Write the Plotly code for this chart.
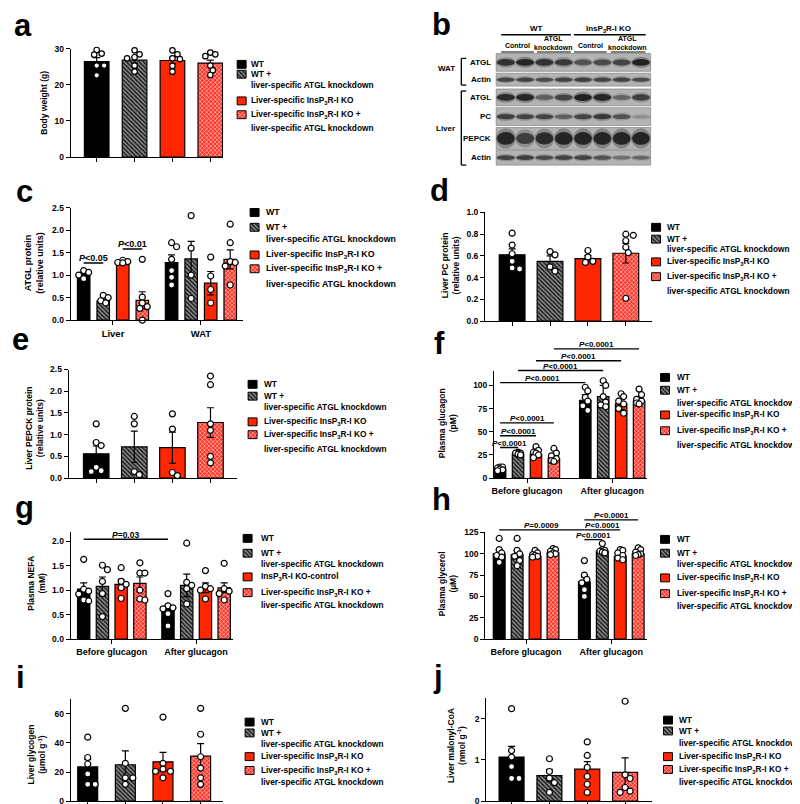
import plotly.graph_objects as go

W, H = 800, 804
FONT = "Liberation Sans, Arial, Helvetica, sans-serif"

# ====================== data ======================
legend_std = [
    ["WT"],
    ["WT +", "liver-specific ATGL knockdown"],
    ["Liver-specific InsP<sub>3</sub>R-I KO"],
    ["Liver-specific InsP<sub>3</sub>R-I KO +", "liver-specific ATGL knockdown"],
]
legend_g = [
    ["WT"],
    ["WT +", "liver-specific ATGL knockdown"],
    ["InsP<sub>3</sub>R-I KO-control"],
    ["Liver-specific InsP<sub>3</sub>R-I KO +", "liver-specific ATGL knockdown"],
]

# a  body weight (g)
bw_mean = [26.4, 26.8, 26.7, 26.0]
bw_sem = [1.1, 0.8, 0.9, 0.8]
bw_pts = [[29.6, 28.6, 28.3, 25.3, 25.3, 22.6],
          [29.5, 28.4, 27.6, 27.3, 25.3, 23.6],
          [29.5, 28.4, 27.3, 27.1, 25.2, 23.6],
          [28.9, 28.4, 27.9, 25.3, 24.0, 22.7]]

# c  ATGL protein (liver / WAT)
c_categories = ["Liver", "WAT"]
atgl_liver_mean = [1.02, 0.42, 1.27, 0.44]
atgl_liver_sem = [0.04, 0.03, 0.02, 0.19]
atgl_liver_pts = [[1.10, 1.06, 1.00, 0.92], [0.55, 0.50, 0.43, 0.38],
                  [1.33, 1.30, 1.28, 1.27], [1.35, 0.51, 0.38, 0.30, 0.26, 0.0]]
atgl_wat_mean = [1.28, 1.36, 0.82, 1.35]
atgl_wat_sem = [0.17, 0.39, 0.26, 0.21]
atgl_wat_pts = [[1.72, 1.63, 1.35, 1.10, 0.95, 0.78], [2.32, 1.60, 1.00, 0.48],
                [1.40, 0.98, 0.68, 0.38], [2.13, 1.72, 1.30, 1.28, 1.20, 0.78]]
c_sig = [(0, 1, 1.27, "P<0.05"), (2, 3, 1.58, "P<0.01")]

# d  liver PC protein
pc_mean = [0.61, 0.55, 0.575, 0.625]
pc_sem = [0.055, 0.05, 0.03, 0.09]
pc_pts = [[0.81, 0.70, 0.62, 0.55, 0.49, 0.48], [0.64, 0.61, 0.50, 0.46],
          [0.65, 0.59, 0.55, 0.54], [0.80, 0.79, 0.74, 0.68, 0.63, 0.21]]

# e  liver PEPCK protein
pepck_mean = [0.56, 0.72, 0.70, 1.28]
pepck_sem = [0.18, 0.36, 0.36, 0.34]
pepck_pts = [[1.25, 0.82, 0.75, 0.25, 0.17, 0.15], [1.42, 1.25, 0.15, 0.08],
             [1.48, 1.13, 0.13, 0.06], [2.35, 2.15, 1.25, 1.10, 0.50, 0.35]]

# f  plasma glucagon (pM)
time_categories = ["Before glucagon", "After glucagon"]
glucagon_before_mean = [10, 26, 26, 21]
glucagon_before_sem = [1, 1, 3, 2.5]
glucagon_before_pts = [[12, 12, 11, 10, 9, 8], [28, 27, 27, 26, 25],
                       [34, 30, 28, 27, 25, 22], [32, 27, 24, 21, 19, 18]]
glucagon_after_mean = [84, 88, 80, 83]
glucagon_after_sem = [6, 12, 6, 5]
glucagon_after_pts = [[98, 94, 87, 83, 78, 73], [105, 100, 88, 82, 79, 77],
                      [91, 88, 83, 80, 75, 70], [96, 90, 85, 83, 81, 80]]
f_sig = [(0, 1, 33, "P<0.0001"), (0, 2, 45.7, "P<0.0001"), (0, 3, 59.6, "P<0.0001"),
         (0, 4.75, 103, "P<0.0001"), (1, 5.75, 116, "P<0.0001"),
         (2, 6.75, 126.6, "P<0.0001"), (3, 7.75, 139.4, "P<0.0001")]

# g  plasma NEFA (mM)
nefa_before_mean = [1.02, 1.08, 1.12, 1.14]
nefa_before_sem = [0.13, 0.19, 0.10, 0.13]
nefa_before_pts = [[1.63, 1.02, 0.98, 0.92, 0.80, 0.78], [1.51, 1.42, 1.18, 0.93, 0.46],
                   [1.46, 1.18, 1.12, 1.05, 0.83], [1.56, 1.35, 1.35, 1.00, 0.82, 0.80]]
nefa_after_mean = [0.65, 1.10, 1.05, 1.05]
nefa_after_sem = [0.04, 0.23, 0.10, 0.10]
nefa_after_pts = [[0.93, 0.68, 0.64, 0.62, 0.52, 0.27], [1.96, 1.16, 1.10, 1.03, 0.72],
                  [1.40, 1.08, 1.03, 1.00, 0.82], [1.55, 1.03, 0.98, 0.93, 0.80]]
g_sig = [(0, 4.5, 2.04, "P=0.03")]

# h  plasma glycerol (uM)
glycerol_before_mean = [100, 99, 97, 101]
glycerol_before_sem = [4, 5, 2, 2]
glycerol_before_pts = [[118, 105, 101, 98, 96, 90], [118, 104, 100, 97, 92, 86],
                       [104, 101, 99, 98, 97, 96], [106, 105, 103, 101, 100, 99]]
glycerol_after_mean = [67, 103, 97, 100]
glycerol_after_sem = [6, 2, 3, 2]
glycerol_after_pts = [[92, 75, 70, 66, 58, 50], [112, 105, 104, 103, 102, 101],
                      [105, 104, 101, 98, 95, 93], [107, 105, 102, 100, 99, 98]]
h_sig = [(0, 4.75, 128, "P=0.0009"), (4.75, 5.75, 116.6, "P<0.0001"),
         (4.75, 6.75, 128, "P<0.0001"), (4.75, 7.75, 139.7, "P<0.0001")]

# i  liver glycogen
glycogen_mean = [23.5, 25, 27, 31]
glycogen_sem = [5, 9.5, 6.5, 8.5]
glycogen_pts = [[44, 30, 25.5, 18.7, 11.5, 11.5], [63.8, 26, 16, 16, 11.5],
                [57.8, 26, 22, 20.5, 20.5, 16], [63.8, 46, 30.5, 22.7, 16, 11.5]]

# j  liver malonyl-CoA
malonyl_mean = [1.07, 0.62, 0.78, 0.70]
malonyl_sem = [0.26, 0.15, 0.18, 0.35]
malonyl_pts = [[2.25, 1.23, 1.07, 0.84, 0.55, 0.55], [1.03, 0.72, 0.56, 0.45, 0.21],
               [1.44, 1.11, 0.82, 0.60, 0.41, 0.21], [2.43, 0.64, 0.55, 0.33, 0.24, 0.21]]

# b  western blot (band intensity 0..1, 8 lanes)
blot_row_labels = ["ATGL", "Actin", "ATGL", "PC", "PEPCK", "Actin"]
blot_band_intensity = [
    [0.85, 0.95, 0.85, 0.80, 0.60, 0.65, 0.70, 0.98],
    [0.70, 0.70, 0.65, 0.72, 0.75, 0.70, 0.70, 0.65],
    [0.90, 0.95, 0.50, 0.70, 1.00, 0.95, 0.45, 0.75],
    [0.75, 0.70, 0.70, 0.50, 0.70, 0.78, 0.60, 0.20],
    [0.95, 0.75, 0.90, 0.95, 0.95, 0.95, 0.95, 0.95],
    [0.70, 0.75, 0.65, 0.70, 0.70, 0.60, 0.40, 0.45],
]

# ====================== helpers ======================
fig = go.Figure()
layout_axes = {}
shapes = []
annotations = []


def axname(letter, idx):
    return letter if idx == 1 else f"{letter}{idx}"


def font(size, italic=False):
    return dict(family=FONT, size=size, color="black", weight="bold",
                style="italic" if italic else "normal")


def ann(text, x, y, size, xanchor="center", yanchor="middle", angle=0, align="center"):
    annotations.append(dict(text=text, x=x / W, y=1 - y / H, xref="paper", yref="paper",
                            showarrow=False, xanchor=xanchor, yanchor=yanchor,
                            textangle=angle, align=align, font=font(size), borderpad=0))


def bar_marker(g, lw=1.2):
    line = dict(color="black", width=lw)
    if g == 0:
        return dict(color="black", line=line)
    if g == 1:
        return dict(color="#7d7d7d", line=line,
                    pattern=dict(shape="\\", fgcolor="#101010", bgcolor="#8c8c8c",
                                 size=3.0, solidity=0.45, fillmode="replace"))
    if g == 2:
        return dict(color="#ff2600", line=line)
    return dict(color="#ff6a60", line=line,
                pattern=dict(shape="x", fgcolor="#ffffff", bgcolor="#ff3326",
                             size=3.0, solidity=0.3, fillmode="replace"))


def swarm(vals, sx, sy, diam, maxoff, step=2.5):
    placed = []
    res = [0.0] * len(vals)
    cands = [0.0]
    m = 1
    while m * step <= maxoff + 1e-9:
        cands += [m * step, -m * step]
        m += 1
    for i in sorted(range(len(vals)), key=lambda k: -vals[k]):
        yp = vals[i] * sy
        best, bestd = 0.0, -1
        for c in cands:
            dmin = min([((c - a) ** 2 + (yp - b) ** 2) ** 0.5 for a, b in placed] or [1e9])
            if dmin >= diam:
                best = c
                break
            if dmin > bestd + 0.5:
                best, bestd = c, dmin
        placed.append((best, yp))
        res[i] = best / sx
    return res


def panel(idx, xpx, ypx, yrange, ytickvals, yfmt, xrange, cat_offsets, width,
          xtickvals, xticktext, cats, xtickfont=9, msize=6):
    xa, ya = axname("x", idx), axname("y", idx)
    sx = (xpx[1] - xpx[0]) / (xrange[1] - xrange[0])
    sy = (ypx[0] - ypx[1]) / (yrange[1] - yrange[0])
    for g in range(4):
        xs = [off + g for off in cat_offsets]
        fig.add_trace(go.Bar(
            x=xs, y=[c[0][g] for c in cats], width=width, marker=bar_marker(g),
            error_y=dict(type="data", array=[c[1][g] for c in cats], color="black",
                         thickness=1.2, width=3.5),
            xaxis=xa, yaxis=ya, showlegend=False, hoverinfo="skip"))
    for g in range(4):
        pxs, pys = [], []
        for off, c in zip(cat_offsets, cats):
            vals = c[2][g]
            offs = swarm(vals, sx, sy, diam=msize * 0.95, maxoff=width * sx * 0.42)
            pxs += [off + g + o for o in offs]
            pys += list(vals)
        fig.add_trace(go.Scatter(
            x=pxs, y=pys, mode="markers", cliponaxis=False,
            marker=dict(size=msize, color="white", line=dict(color="black", width=1.2)),
            xaxis=xa, yaxis=ya, showlegend=False, hoverinfo="skip"))
    common = dict(showline=True, linecolor="black", linewidth=1.3, ticks="outside",
                  ticklen=4, tickwidth=1.3, tickcolor="black", showgrid=False,
                  zeroline=False, fixedrange=True)
    xa_d = dict(domain=[xpx[0] / W, xpx[1] / W], range=xrange, anchor=ya,
                tickmode="array", tickvals=xtickvals, tickfont=font(xtickfont), **common)
    if xticktext:
        xa_d["ticktext"] = xticktext
    else:
        xa_d["showticklabels"] = False
    layout_axes["xaxis" if idx == 1 else f"xaxis{idx}"] = xa_d
    layout_axes["yaxis" if idx == 1 else f"yaxis{idx}"] = dict(
        domain=[1 - ypx[0] / H, 1 - ypx[1] / H], range=yrange, anchor=xa,
        tickmode="array", tickvals=ytickvals,
        ticktext=[format(v, yfmt) for v in ytickvals],
        tickfont=font(8.5), **common)


def sig(idx, ymax, items, size=8):
    xr = axname("x", idx)
    yr = axname("y", idx) + " domain"
    for x0, x1, yv, lab in items:
        shapes.append(dict(type="line", xref=xr, yref=yr, x0=x0, x1=x1,
                           y0=yv / ymax, y1=yv / ymax,
                           line=dict(color="black", width=1.4)))
        txt = "<i>P</i>" + lab[1:].replace("<", "&lt;")
        annotations.append(dict(text=txt, xref=xr, yref=yr, x=(x0 + x1) / 2, y=yv / ymax,
                                yanchor="bottom", yshift=-1.5, showarrow=False,
                                font=font(size), borderpad=0))


def legend(swx, txx, ys, size, entries):
    li = 0
    for g, lines in enumerate(entries):
        yc = ys[li]
        fig.add_trace(go.Bar(x=[swx + 4.5], y=[8], base=[yc - 4], width=[9],
                             marker=bar_marker(g, lw=1), xaxis="x10", yaxis="y10",
                             showlegend=False, hoverinfo="skip"))
        for ln in lines:
            ann(ln, txx, ys[li], size, xanchor="left")
            li += 1


# ====================== panels ======================
# a
panel(1, (60, 213), (146, 36), [0, 30], [0, 10, 20, 30], "d", [-0.684, 3.34], [0], 0.65,
      [0, 1, 2, 3], None, [(bw_mean, bw_sem, bw_pts)], msize=5.5)
# c
panel(2, (60, 233), (311, 197), [0, 2.5], [0, 0.5, 1.0, 1.5, 2.0, 2.5], ".1f", [-0.66, 8.16],
      [0, 4.5], 0.64, [1.5, 6], c_categories,
      [(atgl_liver_mean, atgl_liver_sem, atgl_liver_pts),
       (atgl_wat_mean, atgl_wat_sem, atgl_wat_pts)], xtickfont=9.5)
sig(2, 2.5, c_sig, size=9)
# d
panel(3, (476, 643), (312, 202), [0, 1.0], [0, 0.2, 0.4, 0.6, 0.8, 1.0], ".1f", [-0.71, 3.68],
      [0], 0.68, [0, 1, 2, 3], None, [(pc_mean, pc_sem, pc_pts)])
# e
panel(4, (58, 227), (471, 361), [0, 2.5], [0, 0.5, 1.0, 1.5, 2.0, 2.5], ".1f", [-0.72, 3.7],
      [0], 0.67, [0, 1, 2, 3], None, [(pepck_mean, pepck_sem, pepck_pts)])
# f
panel(5, (485, 638), (471, 363), [0, 115], [0, 25, 50, 75, 100], "d", [-0.33, 8.17],
      [0, 4.75], 0.64, [1.5, 6.25], time_categories,
      [(glucagon_before_mean, glucagon_before_sem, glucagon_before_pts),
       (glucagon_after_mean, glucagon_after_sem, glucagon_after_pts)])
sig(5, 115, f_sig)
# g
panel(6, (60, 223), (634, 526), [0, 2.18], [0, 0.5, 1.0, 1.5, 2.0], ".1f", [-0.69, 7.98],
      [0, 4.5], 0.66, [1.5, 6], time_categories,
      [(nefa_before_mean, nefa_before_sem, nefa_before_pts),
       (nefa_after_mean, nefa_after_sem, nefa_after_pts)])
sig(6, 2.18, g_sig, size=8.5)
# h
panel(7, (476, 638), (634, 526), [0, 125], [0, 25, 50, 75, 100, 125], "d", [-0.78, 8.22],
      [0, 4.75], 0.66, [1.5, 6.25], time_categories,
      [(glycerol_before_mean, glycerol_before_sem, glycerol_before_pts),
       (glycerol_after_mean, glycerol_after_sem, glycerol_after_pts)])
sig(7, 125, h_sig)
# i
panel(8, (60, 213), (798, 695), [0, 70], [0, 20, 40, 60], "d", [-0.45, 3.6],
      [0], 0.53, [0, 1, 2, 3], None, [(glycogen_mean, glycogen_sem, glycogen_pts)])
# j
panel(9, (477, 643), (798, 694), [0, 2.5], [0, 1, 2], "d", [-0.67, 3.7],
      [0], 0.66, [0, 1, 2, 3], None, [(malonyl_mean, malonyl_sem, malonyl_pts)])

# y-axis titles
for x, y, t, s in [
    (33, 91, "Body weight (g)", 8.5),
    (23, 253, "ATGL protein<br>(relative units)", 9),
    (441, 255, "Liver PC protein<br>(relative units)", 8.5),
    (24, 420, "Liver PEPCK protein<br>(relative units)", 8.5),
    (438, 415, "Plasma glucagon<br>(pM)", 8.5),
    (26, 577, "Plasma NEFA<br>(mM)", 8.5),
    (438, 578, "Plasma glycerol<br>(µM)", 8.5),
    (26, 751, "Liver glycogen<br>(µmol g<sup>-1</sup>)", 8.5),
    (447, 742, "Liver malonyl-CoA<br>(nmol g<sup>-1</sup>)", 8.5),
]:
    ann(t, x, y, s, angle=-90)

# panel letters
for t, x, y in [("a", 2, 13), ("b", 422, 12), ("c", 4, 181), ("d", 420, 180), ("e", 0, 331),
                ("f", 424, 335), ("g", 3, 501), ("h", 422, 493), ("i", 4, 673), ("j", 423, 672)]:
    ann(t, x, y, 31, xanchor="left")

# legends
LF = 8.3
legend(227, 240, [52, 62, 73, 89, 103, 116], LF, legend_std)
legend(240, 255, [202, 217, 229, 245, 259, 274], 8.8, legend_std)
legend(643, 657, [217, 229, 239, 252, 267, 282], LF, legend_std)
legend(238, 253, [376, 388, 399, 414, 427, 441], LF, legend_std)
legend(652, 668, [369, 382, 395, 407, 423, 437], LF, legend_std)
legend(233, 250, [532, 547, 558, 571, 587, 599], LF, legend_g)
legend(652, 668, [533, 547, 558, 572, 588, 600], LF, legend_std)
legend(235, 250, [718, 729, 740, 753, 767, 779], LF, legend_std)
legend(655, 670, [716, 727, 739, 753, 766, 779], LF, legend_std)


# ====================== panel b: western blot ======================
def prect(x0, y0, x1, y1, **kw):
    shapes.append(dict(type="rect", xref="paper", yref="paper", x0=x0 / W, x1=x1 / W,
                       y0=1 - y1 / H, y1=1 - y0 / H, **kw))


def pline_px(x0, y0, x1, y1, w=1.4):
    shapes.append(dict(type="line", xref="paper", yref="paper", x0=x0 / W, x1=x1 / W,
                       y0=1 - y0 / H, y1=1 - y1 / H, line=dict(color="black", width=w)))


def pellipse(x0, y0, x1, y1, color):
    shapes.append(dict(type="circle", xref="paper", yref="paper", x0=x0 / W, x1=x1 / W,
                       y0=1 - y1 / H, y1=1 - y0 / H, fillcolor=color, line=dict(width=0)))


bx0, bx1 = 487, 642
row_boxes = [(41, 59), (61, 74), (77, 94), (96, 114), (116, 138), (139, 154)]
row_band_h = [6.5, 4.5, 6.5, 5.5, 12, 5]
lane_w = (bx1 - bx0) / 8
for r, (y0, y1) in enumerate(row_boxes):
    prect(bx0, y0, bx1, y1, fillcolor="#b3b3b3", line=dict(color="#8a8a8a", width=0.8))
    cy = (y0 + y1) / 2
    for l in range(8):
        a = blot_band_intensity[r][l]
        cx = bx0 + (l + 0.5) * lane_w
        hh = row_band_h[r] * (0.55 + 0.55 * a)
        ww = lane_w * 0.92
        pellipse(cx - ww / 2 - 1, cy - hh * 0.8, cx + ww / 2 + 1, cy + hh * 0.8,
                 f"rgba(40,40,40,{0.35 * a:.3f})")
        pellipse(cx - ww / 2, cy - hh / 2, cx + ww / 2, cy + hh / 2,
                 f"rgba(15,15,15,{0.85 * a:.3f})")
    ann(blot_row_labels[r], 483, cy, 8, xanchor="right")

# header
ann("WT", 527, 16, 8)
ann("InsP<sub>3</sub>R-I KO", 600, 16, 8)
pline_px(492, 22, 562, 22)
pline_px(565, 22, 637, 22)
ann("Control", 508, 33, 7)
ann("ATGL", 545, 26, 7)
ann("knockdown", 545, 34.5, 7)
ann("Control", 582, 33, 7)
ann("ATGL", 619, 26, 7)
ann("knockdown", 619, 34.5, 7)
for x0, x1 in [(492, 525), (528, 562), (565, 598), (602, 637)]:
    pline_px(x0, 39.5, x1, 39.5, w=1.2)
# brackets
for y0, y1, lab, ly in [(46, 73, "WAT", 56), (79, 154, "Liver", 117)]:
    pline_px(452, y0, 452, y1, w=1.3)
    pline_px(452, y0, 457, y0, w=1.3)
    pline_px(452, y1, 457, y1, w=1.3)
    ann(lab, 447, ly, 8, xanchor="right")

# overlay pixel axis for legend swatches
layout_axes["xaxis10"] = dict(domain=[0, 1], range=[0, W], visible=False, anchor="y10",
                              fixedrange=True)
layout_axes["yaxis10"] = dict(domain=[0, 1], range=[H, 0], visible=False, anchor="x10",
                              fixedrange=True)

fig.update_layout(
    width=W, height=H, margin=dict(l=0, r=0, t=0, b=0),
    paper_bgcolor="white", plot_bgcolor="rgba(0,0,0,0)",
    barmode="overlay", showlegend=False,
    font=dict(family=FONT, color="black"),
    shapes=shapes, annotations=annotations, **layout_axes)

fig.write_html("out.html")
